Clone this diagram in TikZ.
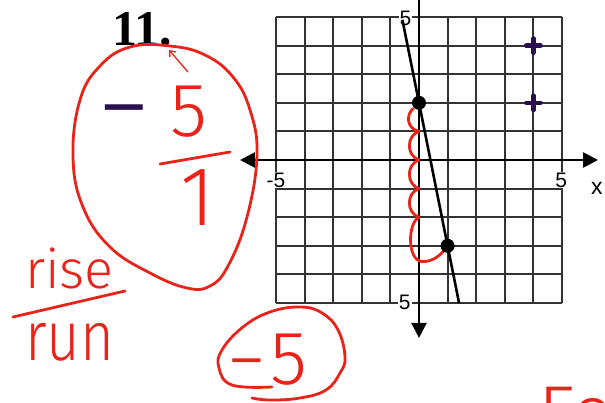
\documentclass[tikz,border=0pt]{standalone}
\usepackage{fontspec}
\setmainfont{Liberation Serif}
\newfontfamily\labelfont{Liberation Sans}
\newfontfamily\hand{Fira Sans Light}
\usetikzlibrary{arrows.meta}
\definecolor{redink}{HTML}{E8231A}
\definecolor{purpleink}{HTML}{2B0E50}
\definecolor{gridc}{HTML}{333333}
\tikzset{
  gridline/.style={draw=gridc, line width=1.9pt},
  axisline/.style={draw=black, line width=2.6pt, >={Triangle[length=15pt,width=15pt]}, <->},
  fline/.style={draw=black, line width=2.6pt},
  ptdot/.style={circle, fill=black, inner sep=0pt, minimum size=14pt},
  redline/.style={draw=redink, line width=2.8pt, line cap=round, line join=round},
  handtext/.style={text=redink, inner sep=0pt},
  axlabel/.style={font=\labelfont\fontsize{21}{21}\selectfont, fill=white, inner sep=1pt},
  plusmark/.style={draw=purpleink, line width=4.5pt, line cap=round}
}
\begin{document}
\begin{tikzpicture}[x=1pt,y=-1pt]
\useasboundingbox (0,0) rectangle (605,403);
\clip (0,0) rectangle (605,403);

% ---------- graph ----------
\begin{scope}[shift={(419,160)}, x=28.6pt, y=28.6pt]
  \foreach \i in {-5,...,5} {
    \draw[gridline] (\i,-5) -- (\i,5);
    \draw[gridline] (-5,\i) -- (5,\i);
  }
  \coordinate (xl) at (-6.26,0);
  \coordinate (xr) at (6.26,0);
  \coordinate (yt) at (0,6.4);
  \coordinate (yb) at (0,-6.22);
  \draw[axisline] (xl) -- (xr);
  \draw[axisline] (yt) -- (yb);

  \node[axlabel] (lxm) at (-5.0,-0.7) {-5};
  \node[axlabel] (lxp) at (4.97,-0.7) {5};
  \node[axlabel, fill=none] (lx) at (6.22,-0.98) {\fontsize{23}{23}\selectfont x};
  \node[axlabel] (lyp) at (-0.47,4.95) {5};
  \node[axlabel] (lym) at (-0.5,-4.97) {5};

  % red scallops (rise) and run
  \draw[redline] (-0.2,1.8) .. controls (-0.45,1.6) and (-0.45,1.1) .. (0,1)
     .. controls (-0.45,0.85) and (-0.45,0.15) .. (0,0)
     .. controls (-0.45,-0.15) and (-0.45,-0.85) .. (0,-1)
     .. controls (-0.45,-1.15) and (-0.45,-1.85) .. (0,-2)
     .. controls (-0.4,-2.2) and (-0.42,-3.5) .. (0.1,-3.55)
     .. controls (0.5,-3.57) and (0.8,-3.3) .. (1,-3);

  \coordinate (ltop) at (-0.58,4.9);
  \coordinate (lbot) at (1.4,-5);
  \draw[fline] (ltop) -- (lbot);
  \node[ptdot] (p1) at (0,2) {};
  \node[ptdot] (p2) at (1,-3) {};

  \draw[plusmark] (3.75,4) -- (4.25,4) (4,3.75) -- (4,4.25);
  \draw[plusmark] (3.75,2) -- (4.25,2) (4,1.75) -- (4,2.25);
\end{scope}

% ---------- left annotations ----------
\node[anchor=base west, font=\bfseries\fontsize{50}{50}\selectfont, inner sep=0pt] (num) at (112,46) {11.};

\draw[redline] plot[smooth cycle, tension=0.7] coordinates {
  (130,47) (100,66) (80,100) (73,157) (83,207) (110,247) (150,273) (187,288)
  (210,286) (228,266) (247,217) (257,155) (250,110) (233,77) (205,55) (170,46)};
\coordinate (arA) at (188,72);
\coordinate (arB) at (169,50);
\draw[redline, line width=1.3pt, -{Straight Barb[length=5pt,width=8pt]}] (arA) -- (arB);

\node[text=purpleink, font=\labelfont\fontsize{78}{78}\selectfont, inner sep=0pt, anchor=base] (minus) at (124,134) {−};
\node[handtext, font=\hand\fontsize{76}{76}\selectfont] (five) at (189,112) {5};
\draw[redline] (160,164) -- (230,152);
\node[handtext, font=\hand\fontsize{84}{84}\selectfont] (one) at (198,198) {1};

\node[handtext, font=\hand\fontsize{54}{54}\selectfont, anchor=base west] (rise) at (25,289) {rise};
\draw[redline] (13,317) -- (125,291);
\node[handtext, font=\hand\fontsize{58}{58}\selectfont, anchor=base west, yscale=1.2] (run) at (25,360) {run};

% ---------- bottom answer ----------
\draw[redline] plot[smooth, tension=0.7] coordinates {
  (272,387) (232,385) (219,368) (222,350) (243,327) (270,312) (300,307)
  (322,313) (338,330) (345,357) (340,373) (326,390) (300,398) (270,400) (252,398)};
\node[handtext, font=\hand\fontsize{76}{76}\selectfont, anchor=base west] (ans) at (225,384) {\scalebox{1.4}[1]{-}\hspace{3pt}5};

\node[handtext, font=\hand\fontsize{75}{75}\selectfont, anchor=base west] (fo) at (538,438) {Fo};
\end{tikzpicture}
\end{document}
